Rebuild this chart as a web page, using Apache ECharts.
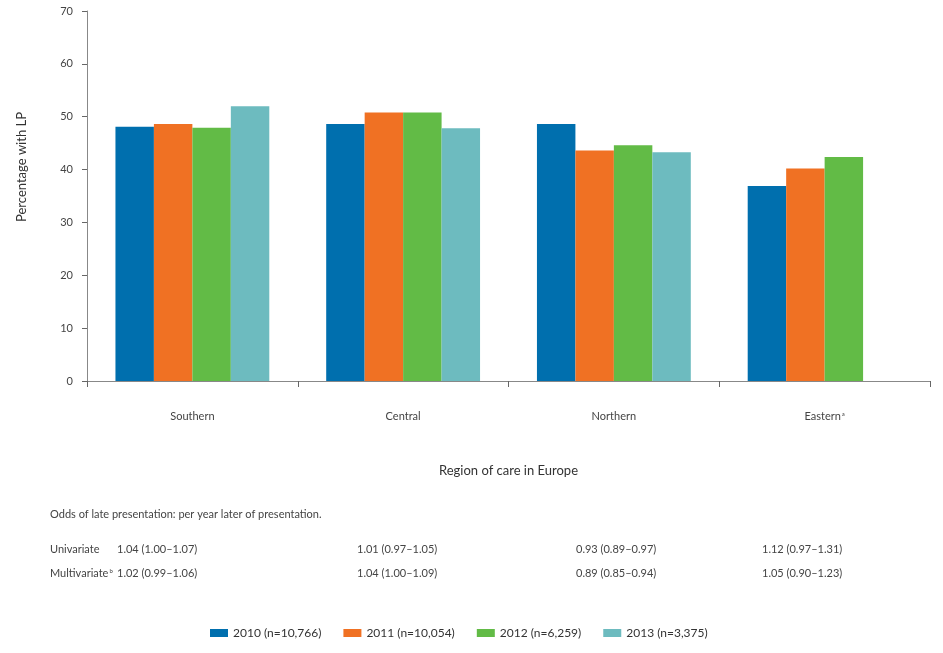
<!DOCTYPE html>
<html><head><meta charset="utf-8">
<script src="https://cdn.jsdelivr.net/npm/echarts@6/dist/echarts.min.js"></script>
<style>html,body{margin:0;padding:0;background:#fff}#c{width:943px;height:653px}</style>
</head><body><div id="c"></div>
<script>
var categories = ['Southern', 'Central', 'Northern', 'Eastern'];
var seriesNames = ['2010 (n=10,766)', '2011 (n=10,054)', '2012 (n=6,259)', '2013 (n=3,375)'];
var v2010 = [48.1, 48.6, 48.6, 36.9];
var v2011 = [48.6, 50.8, 43.6, 40.2];
var v2012 = [47.9, 50.8, 44.6, 42.4];
var v2013 = [52.0, 47.8, 43.3, null];
var colors = ['#006FAE', '#F07123', '#62BB46', '#6DBBBF'];
var oddsTitle = 'Odds of late presentation: per year later of presentation.';
var univariate = ['1.04 (1.00–1.07)', '1.01 (0.97–1.05)', '0.93 (0.89–0.97)', '1.12 (0.97–1.31)'];
var multivariate = ['1.02 (0.99–1.06)', '1.04 (1.00–1.09)', '0.89 (0.85–0.94)', '1.05 (0.90–1.23)'];
var colX = [117, 357, 576, 762];

var FONT = 'Lato';
var TXT = '#444';
var chart = echarts.init(document.getElementById('c'));
var values = [v2010, v2011, v2012, v2013];
var series = seriesNames.map(function (n, i) {
  return { name: n, type: 'bar', data: values[i], barGap: '0%', barCategoryGap: '27%',
    itemStyle: { color: colors[i] }, animation: false };
});
var graphics = [
  { type: 'text', left: 50, top: 509, style: { text: oddsTitle, font: '11px ' + FONT, fill: TXT } },
  { type: 'text', left: 50, top: 544, style: { text: 'Univariate', font: '11px ' + FONT, fill: TXT } },
  { type: 'text', left: 50, top: 568, style: { text: 'Multivariate{s|b}', font: '11px ' + FONT, fill: TXT,
      rich: { s: { fontSize: 6, verticalAlign: 'top', fill: TXT, fontFamily: FONT, padding: [0,0,5,1] } } } },
  { type: 'text', x: 22, y: 167, rotation: Math.PI / 2,
    style: { text: 'Percentage with LP', font: '13px ' + FONT, fill: '#333', align: 'center', verticalAlign: 'middle' } }
];
univariate.forEach(function (t, i) {
  graphics.push({ type: 'text', left: colX[i], top: 544, style: { text: t, font: '11px ' + FONT, fill: TXT } });
});
multivariate.forEach(function (t, i) {
  graphics.push({ type: 'text', left: colX[i], top: 568, style: { text: t, font: '11px ' + FONT, fill: TXT } });
});
chart.setOption({
  animation: false,
  textStyle: { fontFamily: FONT },
  grid: { left: 87, right: 13, top: 11, bottom: 272, containLabel: false },
  legend: { bottom: 9, left: 205, itemWidth: 18, itemHeight: 8, itemGap: 22, icon: 'rect',
    textStyle: { fontSize: 12, color: '#333', fontFamily: FONT } },
  xAxis: { type: 'category', data: categories,
    axisLine: { lineStyle: { color: '#888' } },
    axisTick: { show: true, length: 6, lineStyle: { color: '#666' } },
    axisLabel: { margin: 30, fontSize: 11, color: TXT, fontFamily: FONT,
      formatter: function (v) { return v === 'Eastern' ? 'Eastern{s|a}' : v; },
      rich: { s: { fontSize: 6, verticalAlign: 'top', color: TXT, padding: [0,0,5,1] } } },
    name: 'Region of care in Europe', nameLocation: 'middle', nameGap: 83,
    nameTextStyle: { fontSize: 13, color: '#333', fontFamily: FONT } },
  yAxis: { type: 'value', min: 0, max: 70, interval: 10,
    axisLine: { show: true, lineStyle: { color: '#888' } },
    axisTick: { show: true, length: 5, lineStyle: { color: '#666' } },
    splitLine: { show: false },
    axisLabel: { margin: 14, fontSize: 11, color: TXT, fontFamily: FONT } },
  series: series,
  graphic: graphics
});
</script></body></html>
